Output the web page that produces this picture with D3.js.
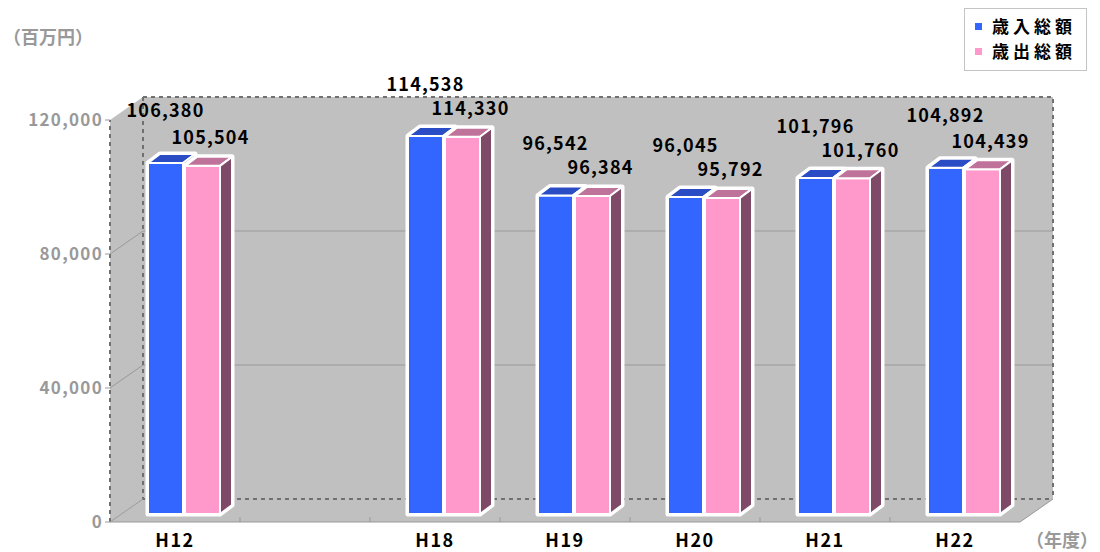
<!DOCTYPE html>
<html lang="ja">
<head>
    <meta charset="UTF-8">
    <title>歳入総額・歳出総額</title>
    <script src="https://d3js.org/d3.v7.min.js"></script>
    <style>
        body { margin: 0; background: #fff; }
        svg { display: block; }
        text { font-family: "Noto Sans CJK JP", "Noto Sans", sans-serif; font-weight: bold; }
        .tick-label { fill: #999; font-size: 17px; letter-spacing: 1.3px; }
        .value-label { fill: #000; font-size: 18px; letter-spacing: 1.2px; }
        .cat-label { fill: #000; font-size: 18px; letter-spacing: 1.5px; }
        .unit { fill: #999; font-size: 18px; }
        .legend-text { fill: #000; font-size: 17px; letter-spacing: 4px; }
    </style>
</head>
<body>
    <svg id="chart"></svg>

    <script>
        // data (百万円); the blank slot is an empty category in the original chart
        var categories = ["H12", "", "H18", "H19", "H20", "H21", "H22"];
        var revenue = [106380, null, 114538, 96542, 96045, 101796, 104892];
        var expenditure = [105504, null, 114330, 96384, 95792, 101760, 104439];
        var seriesNames = ["歳入総額", "歳出総額"];
        var yTicks = [0, 40000, 80000, 120000];
        var yTickLabels = ["0", "40,000", "80,000", "120,000"];

        var width = 1100, height = 552;
        var svg = d3.select("#chart").attr("width", width).attr("height", height);

        // chart box depth offset
        var dx = 33, dy = -23;

        var x = d3.scaleBand()
            .domain(d3.range(categories.length))
            .range([110, 1020])
            .padding(0);

        var y = d3.scaleLinear().domain([0, 120000]).range([522, 120]);
        // bars sit a little behind the front plane
        var yBar = d3.scaleLinear().domain([0, 120000]).range([514, 118]);
        var barShift = 11, barW = 35, barGap = 2, bdx = 12, bdy = -9;

        var colors = {
            rev: { front: "#3366ff", top: "#2a4cc4", side: "#1f3a99" },
            exp: { front: "#ff99cc", top: "#c0739a", side: "#7f4a67" }
        };

        var x0 = x.range()[0], x1 = x.range()[1];
        var yMax = y(120000), yMin = y(0);
        var line = d3.line();

        // walls and floor
        svg.append("polygon")
            .attr("points", [[x0 + dx, yMax + dy], [x1 + dx, yMax + dy], [x1 + dx, yMin + dy], [x0 + dx, yMin + dy]].join(" "))
            .attr("fill", "#c0c0c0");
        svg.append("polygon")
            .attr("points", [[x0, yMin], [x0 + dx, yMin + dy], [x0 + dx, yMax + dy], [x0, yMax]].join(" "))
            .attr("fill", "#c0c0c0");
        svg.append("polygon")
            .attr("points", [[x0, yMin], [x1, yMin], [x1 + dx, yMin + dy], [x0 + dx, yMin + dy]].join(" "))
            .attr("fill", "#c0c0c0");

        // gridlines
        yTicks.filter(function(d) { return d > 0 && d < 120000; }).forEach(function(v) {
            svg.append("path")
                .attr("d", line([[x0, y(v)], [x0 + dx, y(v) + dy], [x1 + dx, y(v) + dy]]))
                .attr("fill", "none").attr("stroke", "#999").attr("stroke-width", 1);
        });

        // dashed box edges
        var dashed = [
            [[x0, yMin], [x0, yMax]],
            [[x0 + dx, yMax + dy], [x1 + dx, yMax + dy], [x1 + dx, yMin + dy]],
            [[x0 + dx, yMax + dy], [x0 + dx, yMin + dy], [x1 + dx, yMin + dy]]
        ];
        dashed.forEach(function(pts) {
            svg.append("path")
                .attr("d", line(pts))
                .attr("fill", "none").attr("stroke", "#707070")
                .attr("stroke-width", 2).attr("stroke-dasharray", "4,4");
        });

        // floor edges
        svg.append("path")
            .attr("d", line([[x0 + dx, yMin + dy], [x0, yMin], [x1, yMin], [x1 + dx, yMin + dy]]))
            .attr("fill", "none").attr("stroke", "#999").attr("stroke-width", 1);

        // category ticks on floor edge
        d3.range(1, categories.length).forEach(function(i) {
            svg.append("line")
                .attr("x1", x(i)).attr("x2", x(i))
                .attr("y1", yMin).attr("y2", yMin - 5)
                .attr("stroke", "#999");
        });

        // y axis ticks and labels
        yTicks.forEach(function(v, i) {
            svg.append("line")
                .attr("x1", x0 - 5).attr("x2", x0)
                .attr("y1", y(v)).attr("y2", y(v))
                .attr("stroke", "#999");
            svg.append("text")
                .attr("class", "tick-label")
                .attr("x", x0 - 7).attr("y", y(v))
                .attr("dy", "0.36em")
                .attr("text-anchor", "end")
                .text(yTickLabels[i]);
        });

        // category labels
        categories.forEach(function(c, i) {
            svg.append("text")
                .attr("class", "cat-label")
                .attr("x", x(i) + x.bandwidth() / 2)
                .attr("y", 541)
                .attr("dy", "0.36em")
                .attr("text-anchor", "middle")
                .text(c);
        });

        function drawBar(g, bx, v, col) {
            var yb = yBar(0), yt = yBar(v);
            var front = [[bx, yb], [bx + barW, yb], [bx + barW, yt], [bx, yt]];
            var top = [[bx, yt], [bx + barW, yt], [bx + barW + bdx, yt + bdy], [bx + bdx, yt + bdy]];
            var side = [[bx + barW, yb], [bx + barW + bdx, yb + bdy], [bx + barW + bdx, yt + bdy], [bx + barW, yt]];
            var outline = [[bx, yb], [bx + barW, yb], [bx + barW + bdx, yb + bdy], [bx + barW + bdx, yt + bdy], [bx + bdx, yt + bdy], [bx, yt]];
            g.append("polygon").attr("points", outline.join(" "))
                .attr("fill", "#fff").attr("stroke", "#fff")
                .attr("stroke-width", 5).attr("stroke-linejoin", "round");
            [[front, col.front], [top, col.top], [side, col.side]].forEach(function(f) {
                g.append("polygon").attr("points", f[0].join(" "))
                    .attr("fill", f[1]).attr("stroke", "#fff")
                    .attr("stroke-width", 2).attr("stroke-linejoin", "round");
            });
        }

        var bars = svg.append("g");
        var labels = svg.append("g");
        categories.forEach(function(c, i) {
            if (revenue[i] == null) return;
            var bx = x(i) + barShift + 27;
            var px = bx + barW + barGap;
            drawBar(bars, bx, revenue[i], colors.rev);
            drawBar(bars, px, expenditure[i], colors.exp);

            labels.append("text")
                .attr("class", "value-label")
                .attr("x", bx + barW / 2)
                .attr("y", yBar(revenue[i]) - 52)
                .attr("dy", "0.36em")
                .attr("text-anchor", "middle")
                .text(d3.format(",")(revenue[i]));
            labels.append("text")
                .attr("class", "value-label")
                .attr("x", px + barW / 2 + 8)
                .attr("y", yBar(expenditure[i]) - 28)
                .attr("dy", "0.36em")
                .attr("text-anchor", "middle")
                .text(d3.format(",")(expenditure[i]));
        });

        // units
        svg.append("text").attr("class", "unit")
            .attr("x", 3).attr("y", 38).attr("dy", "0.36em")
            .text("（百万円）");
        svg.append("text").attr("class", "unit")
            .attr("x", 1026).attr("y", 541).attr("dy", "0.36em")
            .text("（年度）");

        // legend
        var legend = svg.append("g");
        legend.append("rect")
            .attr("x", 964.5).attr("y", 8.5)
            .attr("width", 122).attr("height", 62)
            .attr("fill", "#fff").attr("stroke", "#888")
            .attr("stroke-dasharray", "1,1");
        [colors.rev.front, colors.exp.front].forEach(function(c, i) {
            legend.append("rect")
                .attr("x", 975).attr("y", 23 + i * 25)
                .attr("width", 7).attr("height", 7)
                .attr("fill", c);
            legend.append("text")
                .attr("class", "legend-text")
                .attr("x", 992).attr("y", 27 + i * 25)
                .attr("dy", "0.36em")
                .text(seriesNames[i]);
        });
    </script>
</body>
</html>
